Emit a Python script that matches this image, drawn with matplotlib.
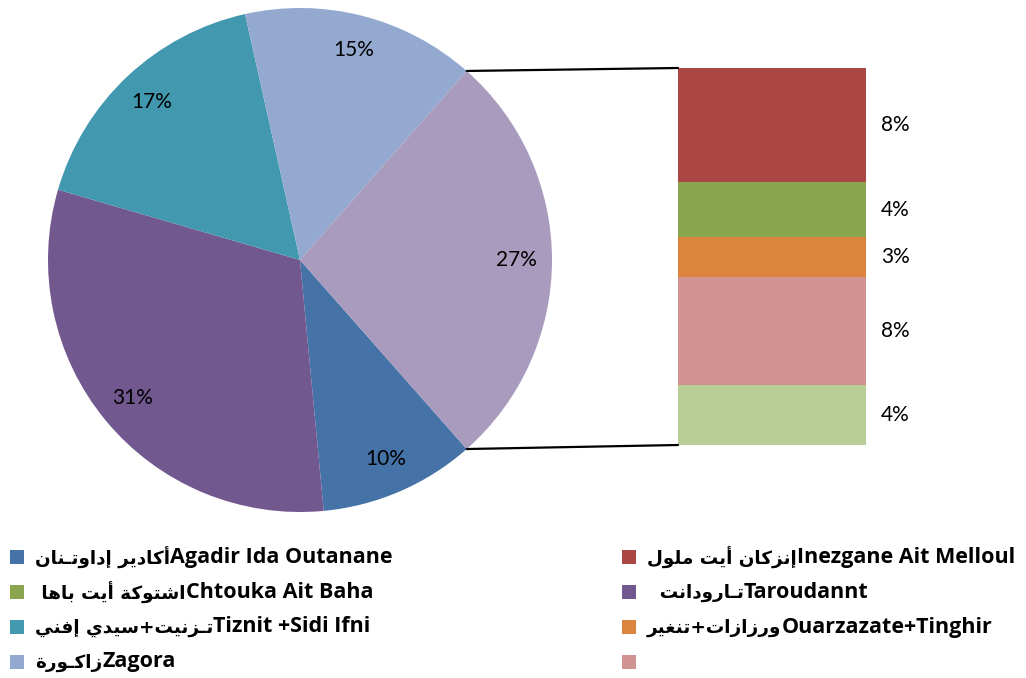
import matplotlib
matplotlib.use("Agg")
import matplotlib.pyplot as plt
from matplotlib.patches import ConnectionPatch, Rectangle
import numpy as np

# pie: clockwise from the lower right
pie_names = ["Agadir", "Taroudannt", "Tiznit", "Zagora", "Other"]
pie_values = [10, 31, 17, 15, 27]
pie_colors = ["#4572A7", "#71588F", "#4198AF", "#93A9CF", "#A99BBD"]

# stacked bar for the "other" slice, top to bottom
bar_values = [8.2, 3.9, 2.9, 7.7, 4.3]
bar_labels = ["8%", "4%", "3%", "8%", "4%"]
bar_colors = ["#AA4643", "#89A54E", "#DB843D", "#D19392", "#B9CD96"]

# legend, row by row (arabic part, latin part)
legend_ar = ["أكادير إداوتـنان", "إنزكان أيت ملول", " اشتوكة أيت باها", "  تـارودانت",
             "تـزنيت+سيدي إفني", "ورزازات+تنغير", "زاكـورة", ""]
legend_lat = ["Agadir Ida Outanane", "Inezgane Ait Melloul", "Chtouka Ait Baha", "Taroudannt",
              "Tiznit +Sidi Ifni", "Ouarzazate+Tinghir", "Zagora", ""]
legend_colors = ["#4572A7", "#AA4643", "#89A54E", "#71588F",
                 "#4198AF", "#DB843D", "#93A9CF", "#D19392"]

# presentation forms: isolated, final, initial, medial
FORMS = {
    "ا": ("\uFE8D", "\uFE8E", None, None),
    "أ": ("\uFE83", "\uFE84", None, None),
    "إ": ("\uFE87", "\uFE88", None, None),
    "ب": ("\uFE8F", "\uFE90", "\uFE91", "\uFE92"),
    "ة": ("\uFE93", "\uFE94", None, None),
    "ت": ("\uFE95", "\uFE96", "\uFE97", "\uFE98"),
    "د": ("\uFEA9", "\uFEAA", None, None),
    "ر": ("\uFEAD", "\uFEAE", None, None),
    "ز": ("\uFEAF", "\uFEB0", None, None),
    "س": ("\uFEB1", "\uFEB2", "\uFEB3", "\uFEB4"),
    "ش": ("\uFEB5", "\uFEB6", "\uFEB7", "\uFEB8"),
    "غ": ("\uFECD", "\uFECE", "\uFECF", "\uFED0"),
    "ف": ("\uFED1", "\uFED2", "\uFED3", "\uFED4"),
    "ك": ("\uFED9", "\uFEDA", "\uFEDB", "\uFEDC"),
    "ل": ("\uFEDD", "\uFEDE", "\uFEDF", "\uFEE0"),
    "م": ("\uFEE1", "\uFEE2", "\uFEE3", "\uFEE4"),
    "ن": ("\uFEE5", "\uFEE6", "\uFEE7", "\uFEE8"),
    "ه": ("\uFEE9", "\uFEEA", "\uFEEB", "\uFEEC"),
    "و": ("\uFEED", "\uFEEE", None, None),
    "ي": ("\uFEF1", "\uFEF2", "\uFEF3", "\uFEF4"),
    "ـ": ("ـ", "ـ", "ـ", "ـ"),
}


def shape(text):
    # join letters and put them in visual (left to right) order
    lead = text[:len(text) - len(text.lstrip())]
    text = text.lstrip()
    out = []
    for i, c in enumerate(text):
        if c not in FORMS:
            out.append(c)
            continue
        f = FORMS[c]
        prev = text[i - 1] if i > 0 else ""
        nxt = text[i + 1] if i < len(text) - 1 else ""
        jp = prev in FORMS and FORMS[prev][2] is not None
        jn = f[2] is not None and nxt in FORMS
        if jp and jn:
            out.append(f[3])
        elif jp:
            out.append(f[1])
        elif jn:
            out.append(f[2])
        else:
            out.append(f[0])
    return lead + "".join(out)[::-1]


W, H = 1026, 678
fig = plt.figure(figsize=(W / 100, H / 100), dpi=100)
fams = ["Lato", "DejaVu Sans"]
bold_fams = ["Open Sans", "DejaVu Sans"]

# pie
ax = fig.add_axes([48 / W, 1 - 512 / H, 504 / W, 504 / H])
wedges, _, autotexts = ax.pie(pie_values, colors=pie_colors, startangle=-48.6, counterclock=False,
                              autopct="%d%%", pctdistance=0.86, radius=1,
                              wedgeprops=dict(linewidth=0))
for t in autotexts:
    t.set_fontfamily(fams)
    t.set_fontsize(15)
ax.set_xlim(-1, 1)
ax.set_ylim(-1, 1)
ax.set_aspect("equal")
ax.axis("off")

# bar
bx = fig.add_axes([678 / W, 1 - 445 / H, 188 / W, 377 / H])
total = sum(bar_values)
top = total
for v, lab, col in zip(bar_values, bar_labels, bar_colors):
    bx.bar(0.5, v, bottom=top - v, width=1, color=col, linewidth=0)
    bx.annotate(lab, (1, top - v / 2), xytext=(11, 0), textcoords="offset points",
                ha="left", va="center", fontsize=15, family=fams)
    top -= v
bx.set_xlim(0, 1)
bx.set_ylim(0, total)
bx.axis("off")

# connector lines
a = np.deg2rad(pie_values[-1] * 3.6 / 2)
for sgn, yb in [(1, total), (-1, 0)]:
    con = ConnectionPatch(xyA=(np.cos(a), sgn * np.sin(a)), coordsA=ax.transData,
                          xyB=(0, yb), coordsB=bx.transData, color="black", lw=1.6)
    fig.add_artist(con)

# legend
renderer = fig.canvas.get_renderer()
col_x = [10, 622]
row_y = [557, 592, 627, 662]
for i in range(len(legend_colors)):
    cx = col_x[i % 2]
    ry = row_y[i // 2]
    fig.add_artist(Rectangle((cx / W, 1 - (ry + 7) / H), 14 / W, 14 / H,
                             transform=fig.transFigure, color=legend_colors[i], lw=0))
    x0 = cx + 25
    if legend_ar[i]:
        t = fig.text(x0 / W, 1 - (ry + 1) / H, shape(legend_ar[i]), ha="left", va="center",
                     fontsize=13.2, fontweight="bold", family="DejaVu Sans")
        x0 = t.get_window_extent(renderer).x1
    fig.text(x0 / W, 1 - ry / H, legend_lat[i], ha="left", va="center",
             fontsize=15.5, fontweight="bold", family=bold_fams)

fig.savefig("out.png", dpi=100)
